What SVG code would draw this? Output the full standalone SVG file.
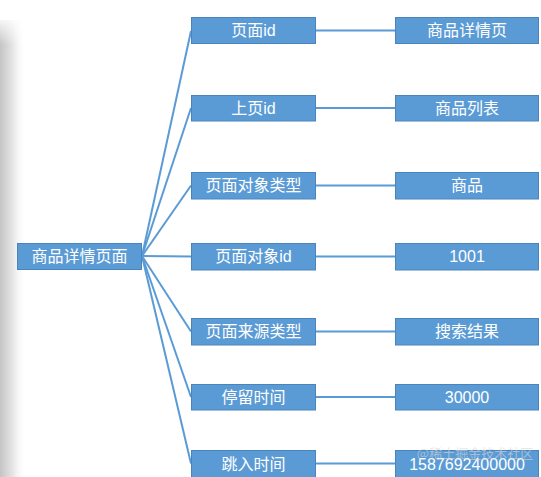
<svg xmlns="http://www.w3.org/2000/svg" width="541" height="477" viewBox="0 0 541 477">
<defs>
<linearGradient id="shadow" x1="0" y1="0" x2="1" y2="0">
<stop offset="0" stop-color="#c4c4c4"/>
<stop offset="0.5" stop-color="#e6e6e6"/>
<stop offset="1" stop-color="#ffffff" stop-opacity="0"/>
</linearGradient>
<linearGradient id="shadowTop" x1="0" y1="0" x2="0" y2="1">
<stop offset="0" stop-color="#ffffff" stop-opacity="1"/>
<stop offset="1" stop-color="#ffffff" stop-opacity="0"/>
</linearGradient>
</defs>
<style>
.box{fill:#5B9BD5;stroke:#4A84BC;stroke-width:1}
.lbl{fill:#ffffff;font-family:"Liberation Sans","Noto Sans CJK SC",sans-serif;font-size:16px;text-anchor:middle;dominant-baseline:central}
.edge{stroke:#5B9BD5;stroke-width:2;fill:none}
</style>
<rect x="0" y="0" width="541" height="477" fill="#ffffff"/>
<rect x="0" y="20" width="26" height="457" fill="url(#shadow)"/>
<rect x="0" y="15" width="30" height="30" fill="url(#shadowTop)"/>
<g id="connectors">
<line class="edge" x1="142" y1="256" x2="191" y2="31"/>
<line class="edge" x1="142" y1="256" x2="191" y2="108"/>
<line class="edge" x1="142" y1="256" x2="191" y2="185.5"/>
<line class="edge" x1="142" y1="256" x2="191" y2="256.5"/>
<line class="edge" x1="142" y1="256" x2="191" y2="331.5"/>
<line class="edge" x1="142" y1="256" x2="191" y2="397"/>
<line class="edge" x1="142" y1="256" x2="191" y2="463.5"/>
<line class="edge" x1="316" y1="30.5" x2="395" y2="30.5"/>
<line class="edge" x1="316" y1="108" x2="395" y2="108"/>
<line class="edge" x1="316" y1="185.5" x2="395" y2="185.5"/>
<line class="edge" x1="316" y1="256.5" x2="395" y2="256.5"/>
<line class="edge" x1="316" y1="331.5" x2="395" y2="331.5"/>
<line class="edge" x1="316" y1="397" x2="395" y2="397"/>
<line class="edge" x1="316" y1="463.5" x2="395" y2="463.5"/>
</g>
<g id="root"><rect class="box" x="17.5" y="243.5" width="124" height="26"/><text class="lbl" x="79.5" y="256.5">商品详情页面</text></g>
<g id="k1"><rect class="box" x="191.5" y="17.5" width="124" height="26"/><text class="lbl" x="253.5" y="30.5">页面id</text></g>
<g id="k2"><rect class="box" x="191.5" y="95.5" width="124" height="25.5"/><text class="lbl" x="253.5" y="108">上页id</text></g>
<g id="k3"><rect class="box" x="191.5" y="172.5" width="124" height="26.5"/><text class="lbl" x="253.5" y="185.5">页面对象类型</text></g>
<g id="k4"><rect class="box" x="191.5" y="243.5" width="124" height="26.5"/><text class="lbl" x="253.5" y="256.5">页面对象id</text></g>
<g id="k5"><rect class="box" x="191.5" y="318.5" width="124" height="26.5"/><text class="lbl" x="253.5" y="331.5">页面来源类型</text></g>
<g id="k6"><rect class="box" x="191.5" y="384.5" width="124" height="25.5"/><text class="lbl" x="253.5" y="397">停留时间</text></g>
<g id="k7"><rect class="box" x="191.5" y="450.5" width="124" height="30"/><text class="lbl" x="253.5" y="464">跳入时间</text></g>
<g id="v1"><rect class="box" x="395.5" y="17.5" width="143" height="26"/><text class="lbl" x="467" y="30.5">商品详情页</text></g>
<g id="v2"><rect class="box" x="395.5" y="95.5" width="143" height="25.5"/><text class="lbl" x="467" y="108">商品列表</text></g>
<g id="v3"><rect class="box" x="395.5" y="172.5" width="143" height="26.5"/><text class="lbl" x="467" y="185.5">商品</text></g>
<g id="v4"><rect class="box" x="395.5" y="243.5" width="143" height="26.5"/><text class="lbl" x="467" y="256.5">1001</text></g>
<g id="v5"><rect class="box" x="395.5" y="318.5" width="143" height="26.5"/><text class="lbl" x="467" y="331.5">搜索结果</text></g>
<g id="v6"><rect class="box" x="395.5" y="384.5" width="143" height="25.5"/><text class="lbl" x="467" y="397">30000</text></g>
<g id="v7"><rect class="box" x="395.5" y="450.5" width="143" height="30"/><text class="lbl" x="467" y="464">1587692400000</text></g>
<text x="475" y="452" font-family="'Noto Sans CJK SC',sans-serif" font-size="13" fill="#d8d8d8" fill-opacity="0.6" text-anchor="middle" dominant-baseline="central">@稀土掘金技术社区</text>
</svg>
